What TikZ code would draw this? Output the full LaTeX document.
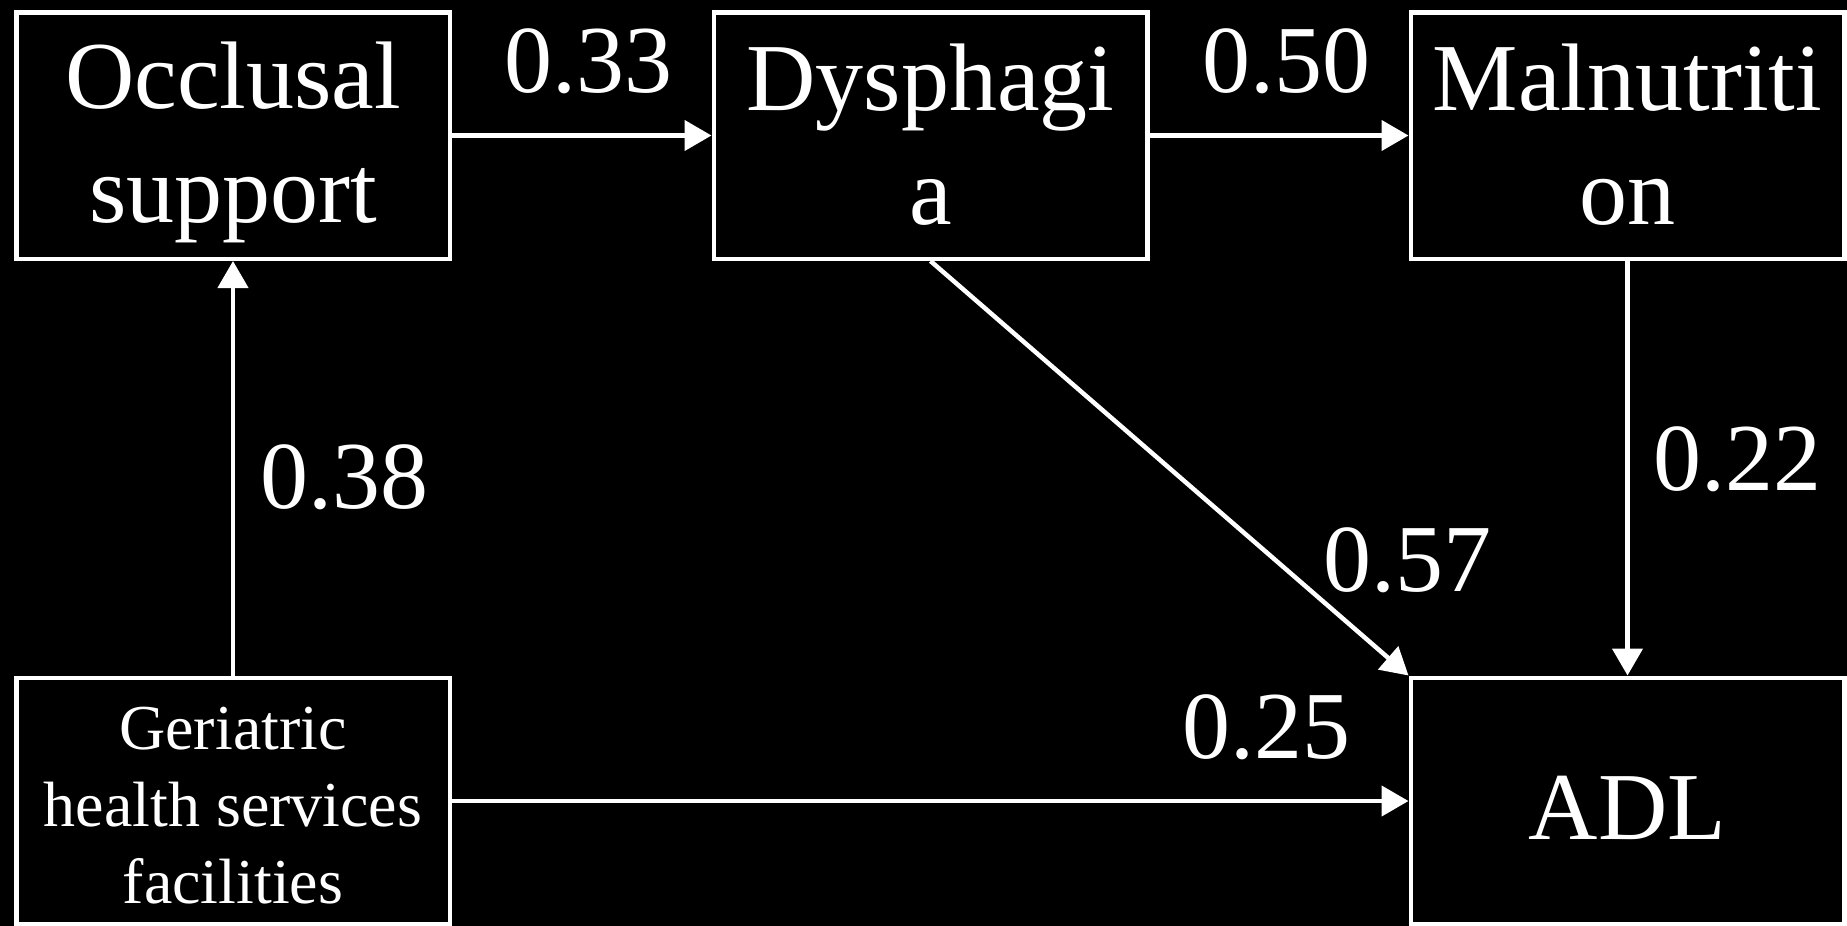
\documentclass[tikz,border=0pt]{standalone}
\usepackage{fontspec}
\setmainfont{Liberation Serif}
\usetikzlibrary{arrows.meta}
\newcommand{\bstrut}{\rule[-17pt]{0pt}{97pt}}
\newcommand{\sstrut}{\rule[-9pt]{0pt}{68pt}}
\newcommand{\astrut}{\rule[-4.5pt]{0pt}{85.5pt}}
\begin{document}
\begin{tikzpicture}[x=1pt,y=-1pt,
  box/.style={draw=white,line width=4.5pt,fill=black,text=white,minimum width=433.5pt,minimum height=246.5pt,inner sep=0pt,align=center,font=\fontsize{96}{114}\selectfont},
  smallbox/.style={box,font=\fontsize{64}{77}\selectfont},
  lab/.style={text=white,inner sep=0pt,font=\fontsize{96}{114}\selectfont},
  conn/.style={draw=white,line width=4.5pt,-{Triangle[length=27pt,width=30pt]}}]
\fill[black] (0,0) rectangle (1847,926);
\useasboundingbox (0,0) rectangle (1847,926);
\node[box] (occ) at (233,135.5) {\bstrut Occlusal\\\bstrut support};
\node[box] (dys) at (930.5,135.5) {\bstrut Dysphagi\\\bstrut a};
\node[box] (mal) at (1627.5,135.5) {\bstrut Malnutriti\\\bstrut on};
\node[smallbox] (ger) at (233,801) {\sstrut Geriatric\\\sstrut health services\\\sstrut facilities};
\node[box] (adl) at (1627.5,801) {\astrut ADL};
\draw[conn] (occ.east) -- (dys.west);
\draw[conn] (dys.east) -- (mal.west);
\draw[conn] (ger.north) -- (occ.south);
\draw[conn] (mal.south) -- (adl.north);
\draw[conn] (dys.south) -- (adl.north west);
\draw[conn] (ger.east) -- (adl.west);
\node[lab] (l33) at (588,61) {0.33};
\node[lab] (l50) at (1286,61) {0.50};
\node[lab] (l38) at (344,477) {0.38};
\node[lab] (l22) at (1737,459) {0.22};
\node[lab] (l57) at (1407,560) {0.57};
\node[lab] (l25) at (1266,727) {0.25};
\end{tikzpicture}
\end{document}
